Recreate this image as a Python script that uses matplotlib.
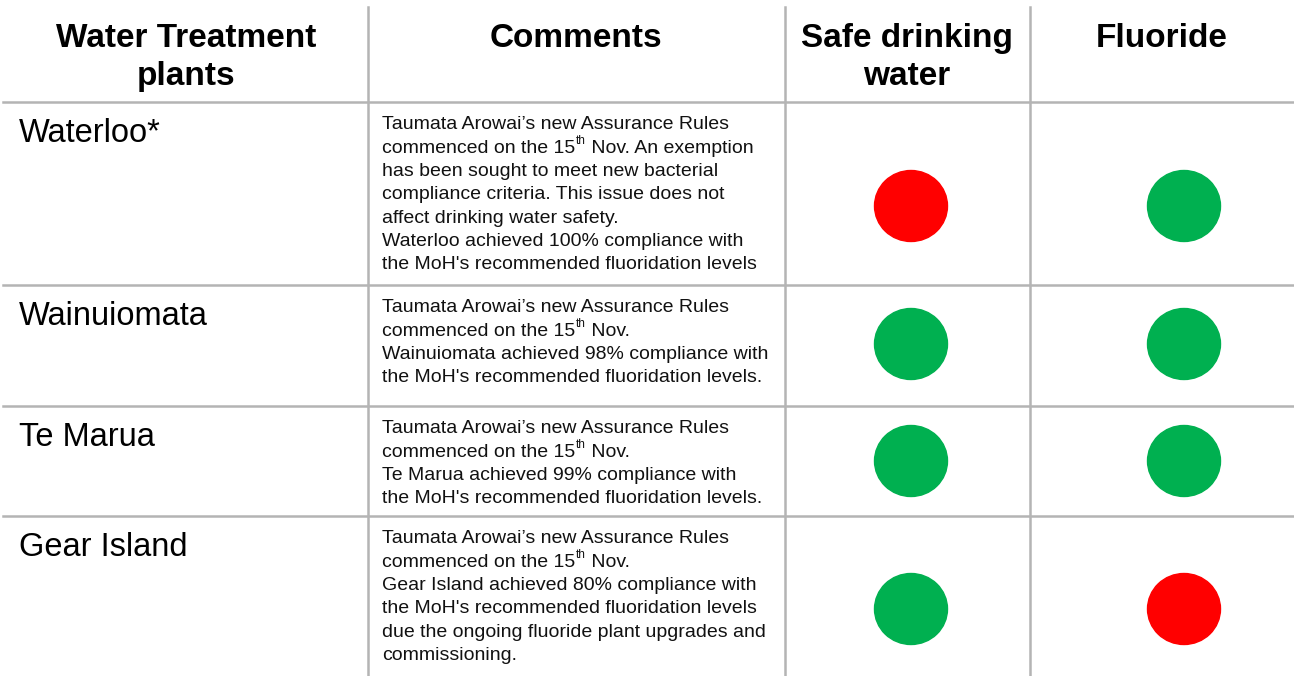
import matplotlib.pyplot as plt
from matplotlib.patches import Ellipse

plt.rcParams['font.family'] = ['Liberation Sans', 'DejaVu Sans']

# data
headers = ["Water Treatment\nplants", "Comments", "Safe drinking\nwater", "Fluoride"]
plants = ["Waterloo*", "Wainuiomata", "Te Marua", "Gear Island"]
comments = [
    "Taumata Arowai’s new Assurance Rules\n"
    "commenced on the 15^th^ Nov. An exemption\n"
    "has been sought to meet new bacterial\n"
    "compliance criteria. This issue does not\n"
    "affect drinking water safety.\n"
    "Waterloo achieved 100% compliance with\n"
    "the MoH's recommended fluoridation levels",
    "Taumata Arowai’s new Assurance Rules\n"
    "commenced on the 15^th^ Nov.\n"
    "Wainuiomata achieved 98% compliance with\n"
    "the MoH's recommended fluoridation levels.",
    "Taumata Arowai’s new Assurance Rules\n"
    "commenced on the 15^th^ Nov.\n"
    "Te Marua achieved 99% compliance with\n"
    "the MoH's recommended fluoridation levels.",
    "Taumata Arowai’s new Assurance Rules\n"
    "commenced on the 15^th^ Nov.\n"
    "Gear Island achieved 80% compliance with\n"
    "the MoH's recommended fluoridation levels\n"
    "due the ongoing fluoride plant upgrades and\n"
    "commissioning.",
]
safe_water = ["red", "green", "green", "green"]
fluoride = ["green", "green", "green", "red"]

colors = {"red": "#ff0000", "green": "#00b050"}

# layout in pixels
W, H = 1294, 676
col_lines = [368, 785, 1030]
row_tops = [102, 285, 406, 516]
header_x = [186, 576, 907, 1162]
circle_y = [206, 344, 461, 609]
safe_x, fluor_x = 911, 1184

fig = plt.figure(figsize=(W / 100, H / 100), dpi=100)
ax = fig.add_axes([0, 0, 1, 1])
ax.set_xlim(0, W)
ax.set_ylim(H, 0)
ax.axis('off')


def comment_line(x, y, line):
    # "^xx^" marks a superscript part
    kw = dict(fontsize=14, color='#111111')
    if '^' not in line:
        ax.text(x, y, line, ha='left', va='baseline', **kw)
        return
    before, sup, after = line.split('^')
    t1 = ax.text(x, y, before, ha='left', va='bottom', **kw)
    t2 = ax.annotate(sup, xy=(1, 0), xycoords=t1, xytext=(0.3, 6.5),
                     textcoords='offset points', ha='left', va='bottom',
                     fontsize=8.5, color='#111111')
    ax.annotate(after, xy=(1, 0), xycoords=(t2, t1), ha='left', va='bottom', **kw)


for hx, h in zip(header_x, headers):
    for i, line in enumerate(h.split("\n")):
        ax.text(hx, 47 + i * 38, line, ha='center', va='baseline',
                fontsize=24, fontweight='bold')

grid = dict(color='#b4b4b4', lw=1.8)
for x in col_lines:
    ax.plot([x, x], [7, H], **grid)
for y in row_tops:
    ax.plot([3, W], [y, y], **grid)

for i, (name, com) in enumerate(zip(plants, comments)):
    top = row_tops[i]
    ax.text(19, top + 40, name, ha='left', va='baseline', fontsize=23.5)
    for j, line in enumerate(com.split("\n")):
        y = top + 27 + j * 23.4
        if '^' in line:
            # va='bottom' sits on the descent, shift to match baseline
            y += 14 * 100 / 72 * 0.212
        comment_line(382, y, line)
    ax.add_patch(Ellipse((safe_x, circle_y[i]), 73, 71, color=colors[safe_water[i]]))
    ax.add_patch(Ellipse((fluor_x, circle_y[i]), 73, 71, color=colors[fluoride[i]]))

fig.savefig("out.png", dpi=100)
